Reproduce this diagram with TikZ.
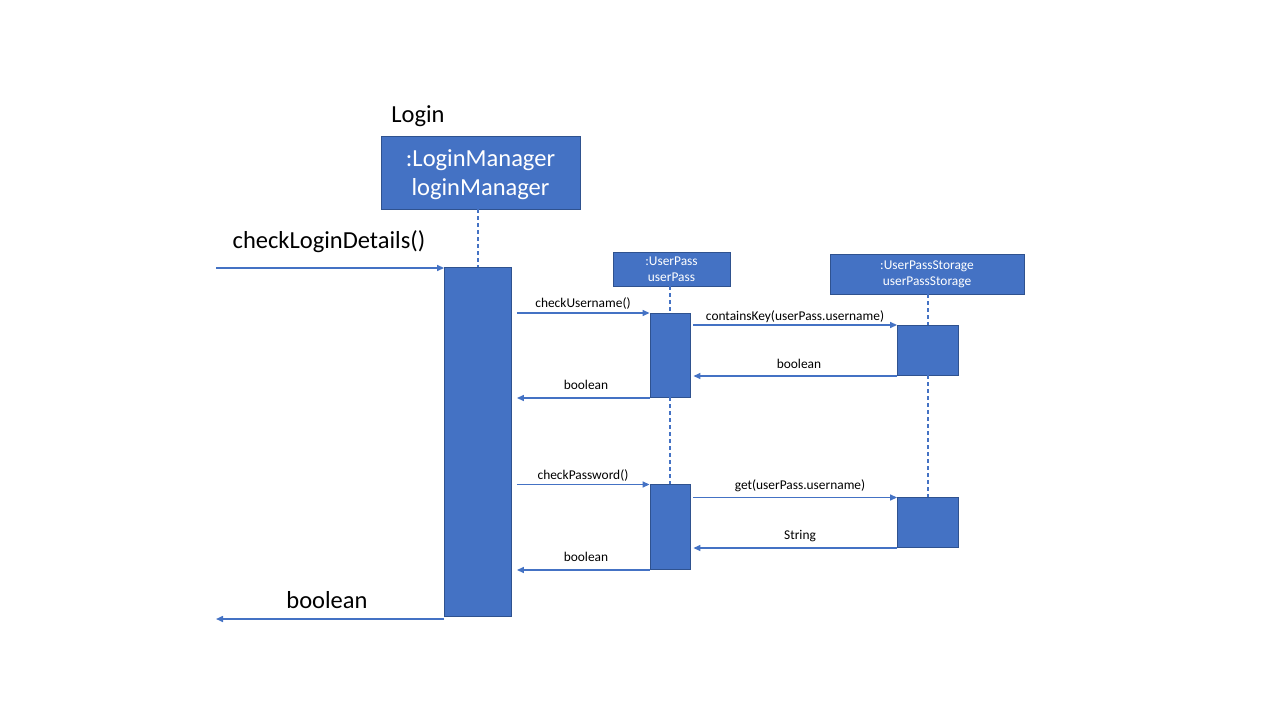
\documentclass[tikz,border=0pt]{standalone}
\usepackage{fontspec}
\setmainfont{Carlito}
\usetikzlibrary{arrows.meta}
\definecolor{bfill}{HTML}{4472C4}
\definecolor{bline}{HTML}{2F528F}
\tikzset{
  objbox/.style={draw=bline, fill=bfill, line width=0.9pt, text=white, align=center, inner sep=0pt},
  actbar/.style={draw=bline, fill=bfill, line width=0.9pt, inner sep=0pt},
  lifeline/.style={draw=bfill, line width=2pt, dash pattern=on 4pt off 3pt},
  msg/.style={draw=bfill, line width=1.5pt, -{Triangle[length=7pt,width=6pt]}},
  big/.style={font=\fontsize{24.5}{29}\selectfont},
  small/.style={font=\fontsize{13.4}{16}\selectfont},
}
\begin{document}
\begin{tikzpicture}[x=1pt,y=-1pt]
\useasboundingbox (0,0) rectangle (1280,720);
% objects
\node[big] (title) at (418,116) {Login};
\node[objbox, minimum width=199pt, minimum height=73pt] (lmgr) at (480.5,172.5) {};
\node[big, text=white, align=center] (lmgrtxt) at ([yshift=-2.5pt]lmgr.center) {:LoginManager\\loginManager};
\node[objbox, small, minimum width=117pt, minimum height=34pt] (up) at (671.5,269) {:UserPass\\userPass};
\node[objbox, small, minimum width=194pt, minimum height=40pt] (ups) at (927,274) {:UserPassStorage\\userPassStorage};
% activation bars
\node[actbar, minimum width=67pt, minimum height=349pt] (lmbar) at (478,441.5) {};
\node[actbar, minimum width=40pt, minimum height=84pt] (upbarA) at (670,355) {};
\node[actbar, minimum width=40pt, minimum height=85pt] (upbarB) at (670,526.5) {};
\node[actbar, minimum width=61pt, minimum height=50pt] (upsbarA) at (928,350) {};
\node[actbar, minimum width=61pt, minimum height=50pt] (upsbarB) at (928,522) {};
% lifelines
\draw[lifeline] (lmgr.south -| lmbar.north) -- (lmbar.north);
\draw[lifeline] (up.south -| upbarA.north) -- (upbarA.north);
\draw[lifeline] (upbarA.south) -- (upbarB.north);
\draw[lifeline] (ups.south -| upsbarA.north) -- (upsbarA.north);
\draw[lifeline] (upsbarA.south) -- (upsbarB.north);
% free ends
\coordinate (inL) at (216,268);
\coordinate (outL) at (216,619);
% external call and return
\draw[msg] (inL) -- (inL -| lmbar.west);
\node[big] (lcall) at (329,241.5) {checkLoginDetails()};
\draw[msg] (outL -| lmbar.west) -- (outL);
\node[big] (lret) at (327,600.5) {boolean};
% checkUsername
\coordinate (m1) at (0,313);
\draw[msg] ([xshift=5pt]lmbar.east |- m1) -- (upbarA.west |- m1);
\node[small] (t1) at (583,304) {checkUsername()};
\coordinate (m2) at (0,325);
\draw[msg] ([xshift=3pt]upbarA.east |- m2) -- (upsbarA.west |- m2);
\node[small] (t2) at (795,317) {containsKey(userPass.username)};
\coordinate (m3) at (0,376);
\draw[msg] (upsbarA.west |- m3) -- ([xshift=3pt]upbarA.east |- m3);
\node[small] (t3) at (799,364) {boolean};
\coordinate (m4) at (0,398);
\draw[msg] (upbarA.west |- m4) -- ([xshift=5pt]lmbar.east |- m4);
\node[small] (t4) at (586,385) {boolean};
% checkPassword
\coordinate (m5) at (0,484.5);
\draw[msg] ([xshift=5pt]lmbar.east |- m5) -- (upbarB.west |- m5);
\node[small] (t5) at (583,476) {checkPassword()};
\coordinate (m6) at (0,497.5);
\draw[msg] ([xshift=3pt]upbarB.east |- m6) -- (upsbarB.west |- m6);
\node[small] (t6) at (800,486) {get(userPass.username)};
\coordinate (m7) at (0,548);
\draw[msg] (upsbarB.west |- m7) -- ([xshift=3pt]upbarB.east |- m7);
\node[small] (t7) at (800,536) {String};
\coordinate (m8) at (0,570);
\draw[msg] (upbarB.west |- m8) -- ([xshift=5pt]lmbar.east |- m8);
\node[small] (t8) at (586,557) {boolean};
\end{tikzpicture}
\end{document}
